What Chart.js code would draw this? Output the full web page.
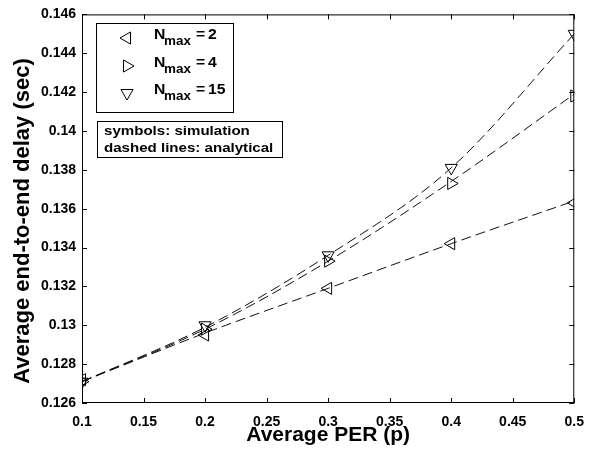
<!DOCTYPE html>
<html>
<head>
<meta charset="utf-8">
<script src="https://cdn.jsdelivr.net/npm/chart.js@4.4.1/dist/chart.umd.min.js"></script>
<style>
  html, body { margin: 0; padding: 0; background: #fff; }
  #wrap { width: 595px; height: 452px; position: relative; }
</style>
</head>
<body>
<div id="wrap"><canvas id="delayChart"></canvas></div>
<script>
// x values: average PER
const perValues = [0.1, 0.2, 0.3, 0.4, 0.5];

// simulation (symbols)
const simN2 = [0.1272, 0.1295, 0.1319, 0.1342, 0.1363];
const simN4 = [0.1271, 0.1298, 0.1333, 0.1373, 0.1418];
const simN15 = [0.1271, 0.1300, 0.1336, 0.1381, 0.1450];

// analytical (dashed lines), read at the same PER values
const anaN2 = [0.1271, 0.1296, 0.1319, 0.1342, 0.1364];
const anaN4 = [0.1271, 0.1298, 0.1333, 0.1374, 0.1419];
const anaN15 = [0.1271, 0.1299, 0.1336, 0.1381, 0.1450];

const seriesNames = ['2', '4', '15'];
const markerRotation = [-90, 90, 180]; // left, right, down triangles

const yTicks = [0.126, 0.128, 0.13, 0.132, 0.134, 0.136, 0.138, 0.14, 0.142, 0.144, 0.146];
const yTitle = 'Average end-to-end delay (sec)';

const toPoints = arr => arr.map((v, i) => ({ x: perValues[i], y: v }));

function dashed(arr) {
    return {
        data: toPoints(arr),
        showLine: true,
        borderColor: '#111',
        borderWidth: 1,
        borderDash: [10, 5],
        cubicInterpolationMode: 'monotone',
        pointRadius: 0
    };
}

function symbols(arr, rot) {
    return {
        data: toPoints(arr),
        showLine: false,
        pointStyle: 'triangle',
        pointRotation: rot,
        pointRadius: 7,
        pointBorderWidth: 1,
        pointBorderColor: '#000',
        pointBackgroundColor: 'rgba(255,255,255,0)'
    };
}

const fam = '"Liberation Sans", Arial, sans-serif';

// draws text stretched sideways a bit, the reference font is wide
function wideText(c, txt, x, y, sx) {
    c.save();
    c.translate(x, y);
    c.scale(sx, 1);
    c.fillText(txt, 0, 0);
    c.restore();
}

// box, inward ticks, y title and the two text boxes, MATLAB style
const decor = {
    id: 'decor',
    afterDraw(chart) {
        const c = chart.ctx;
        const a = chart.chartArea;
        const xs = chart.scales.x, ys = chart.scales.y;
        c.save();
        c.strokeStyle = '#000';
        c.lineWidth = 1;
        c.strokeRect(a.left + 0.5, a.top + 0.5, a.right - a.left - 1, a.bottom - a.top - 1);
        c.beginPath();
        xs.ticks.forEach(t => {
            const px = Math.round(xs.getPixelForValue(t.value)) + 0.5;
            c.moveTo(px, a.bottom); c.lineTo(px, a.bottom - 5);
            c.moveTo(px, a.top); c.lineTo(px, a.top + 5);
        });
        ys.ticks.forEach(t => {
            const py = Math.round(ys.getPixelForValue(t.value)) + 0.5;
            c.moveTo(a.left, py); c.lineTo(a.left + 5, py);
            c.moveTo(a.right, py); c.lineTo(a.right - 5, py);
        });
        c.stroke();

        // y axis title, sits a little below the plot centre in the original
        c.save();
        c.translate(23, 221);
        c.rotate(-Math.PI / 2);
        c.fillStyle = '#000';
        c.font = 'bold 22px ' + fam;
        c.textAlign = 'center';
        c.textBaseline = 'middle';
        c.fillText(yTitle, 0, 0);
        c.restore();

        // legend box
        c.fillStyle = '#fff';
        c.fillRect(96, 23, 138, 90);
        c.strokeRect(96.5, 23.5, 137, 89);
        const rowY = [38, 66, 93];
        seriesNames.forEach((n, i) => {
            c.fillStyle = 'rgba(0,0,0,0)';
            c.strokeStyle = '#000';
            Chart.helpers.drawPoint(c, {
                pointStyle: 'triangle', rotation: markerRotation[i], radius: 7,
                borderWidth: 1
            }, 127, rowY[i]);
            c.fillStyle = '#000';
            c.textBaseline = 'middle';
            c.textAlign = 'left';
            c.font = 'bold 15px ' + fam;
            wideText(c, 'N', 154, rowY[i] - 3, 1.05);
            c.font = 'bold 12px ' + fam;
            wideText(c, 'max', 164, rowY[i] + 4, 1.12);
            c.font = 'bold 15px ' + fam;
            wideText(c, '=', 196, rowY[i] - 3, 1.05);
            wideText(c, n, 208, rowY[i] - 3, 1.05);
        });

        // note box
        c.fillStyle = '#fff';
        c.fillRect(97, 121, 186, 37);
        c.strokeRect(97.5, 121.5, 185, 36);
        c.fillStyle = '#000';
        c.font = 'bold 13px ' + fam;
        wideText(c, 'symbols: simulation', 104, 131, 1.16);
        wideText(c, 'dashed lines: analytical', 104, 148, 1.16);
        c.restore();
    }
};

const ctx = document.getElementById('delayChart').getContext('2d');
new Chart(ctx, {
    type: 'scatter',
    data: {
        datasets: [
            dashed(anaN2), dashed(anaN4), dashed(anaN15),
            symbols(simN2, markerRotation[0]),
            symbols(simN4, markerRotation[1]),
            symbols(simN15, markerRotation[2])
        ]
    },
    options: {
        responsive: true,
        maintainAspectRatio: false,
        animation: false,
        layout: { padding: { top: 12, right: 18, left: 0, bottom: 0 } },
        plugins: { legend: { display: false }, tooltip: { enabled: false } },
        scales: {
            x: {
                type: 'linear', min: 0.1, max: 0.5,
                grid: { display: false, drawTicks: false },
                border: { display: false },
                ticks: {
                    stepSize: 0.05, color: '#000', padding: 11,
                    font: { family: fam, size: 14, weight: 'bold' },
                    callback: v => String(parseFloat(v.toFixed(3)))
                },
                title: {
                    display: true, text: 'Average PER (p)', color: '#000', padding: { top: 0 },
                    font: { family: fam, size: 21, weight: 'bold' }
                },
                afterFit: s => { s.height = 49; }
            },
            y: {
                type: 'linear', min: 0.126, max: 0.146,
                grid: { display: false, drawTicks: false },
                border: { display: false },
                afterBuildTicks: s => { s.ticks = yTicks.map(v => ({ value: v })); },
                ticks: {
                    color: '#000', padding: 6,
                    font: { family: fam, size: 14, weight: 'bold' },
                    callback: v => String(parseFloat(v.toFixed(3)))
                },
                afterFit: s => { s.width = 82; }
            }
        }
    },
    plugins: [decor]
});
</script>
</body>
</html>
